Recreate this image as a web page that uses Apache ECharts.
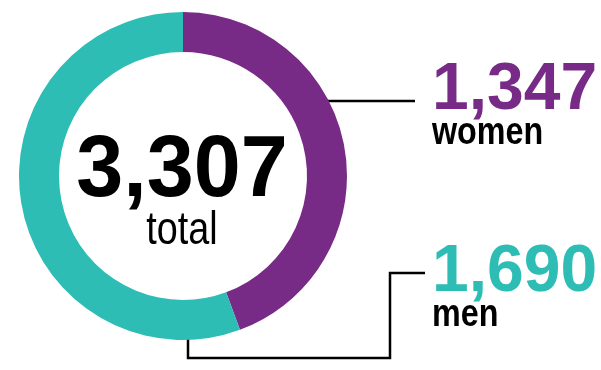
<!DOCTYPE html>
<html><head><meta charset="utf-8">
<script src="https://cdn.jsdelivr.net/npm/echarts@6/dist/echarts.min.js"></script>
<style>html,body{margin:0;padding:0;background:#fff}#c{width:601px;height:370px}</style>
</head><body><div id="c"></div>
<script>
var categories = ['women', 'men'];
var values = [1347, 1690];
var totalLabel = '3,307';
var colors = ['#782A87', '#2EBDB5'];

var fmt = function (v) { return v.toLocaleString('en-US'); };
var chart = echarts.init(document.getElementById('c'), null, {renderer: 'canvas'});
var numFont = '"Liberation Sans", Arial, sans-serif';
var wordFont = '"Liberation Sans", Arial, sans-serif';
chart.setOption({
  animation: false,
  series: [{
    type: 'pie',
    center: [183, 176],
    radius: [124, 164],
    startAngle: 90,
    clockwise: true,
    silent: true,
    label: {show: false},
    labelLine: {show: false},
    data: categories.map(function (c, i) {
      return {name: c, value: values[i], itemStyle: {color: colors[i]}};
    })
  }],
  graphic: [
    {type: 'text', x: 182, y: 172, z: 10, scaleX: 0.96,
     style: {text: totalLabel, fill: '#000', font: 'bold 88px ' + numFont, textAlign: 'center', textVerticalAlign: 'middle'}},
    {type: 'text', x: 182, y: 231, scaleX: 0.82,
     style: {text: 'total', fill: '#000', font: '46px ' + wordFont, textAlign: 'center', textVerticalAlign: 'middle'}},
    {type: 'text', x: 432, y: 91,
     style: {text: fmt(values[0]), fill: colors[0], font: 'bold 66px ' + numFont, textAlign: 'left', textVerticalAlign: 'middle'}},
    {type: 'text', x: 432, y: 134, scaleX: 0.85,
     style: {text: categories[0], fill: '#000', font: 'bold 38px ' + wordFont, textAlign: 'left', textVerticalAlign: 'middle'}},
    {type: 'text', x: 432, y: 273,
     style: {text: fmt(values[1]), fill: colors[1], font: 'bold 66px ' + numFont, textAlign: 'left', textVerticalAlign: 'middle'}},
    {type: 'text', x: 432, y: 316, scaleX: 0.85,
     style: {text: categories[1], fill: '#000', font: 'bold 38px ' + wordFont, textAlign: 'left', textVerticalAlign: 'middle'}},
    {type: 'polyline', shape: {points: [[315, 101], [415, 101]]}, style: {stroke: '#000', lineWidth: 2.5, fill: null}},
    {type: 'polyline', shape: {points: [[188, 329], [188, 358], [390, 358], [390, 273], [425, 273]]}, style: {stroke: '#000', lineWidth: 2.5, fill: null}}
  ]
});
</script></body></html>
